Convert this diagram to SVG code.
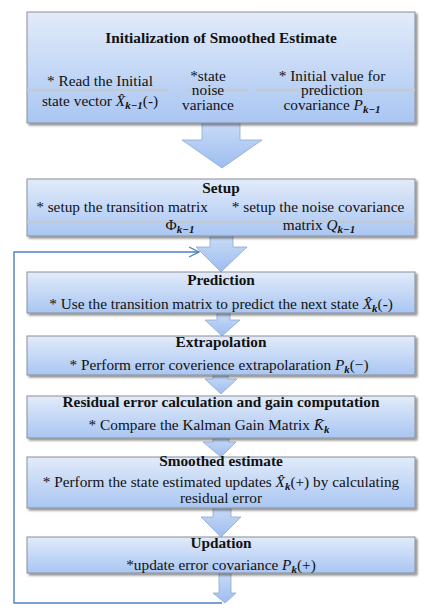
<svg xmlns="http://www.w3.org/2000/svg" width="425" height="613" viewBox="0 0 425 613">
<defs>
<linearGradient id="bg" x1="0" y1="0" x2="0" y2="1">
<stop offset="0" stop-color="#e2ebfa"/>
<stop offset="1" stop-color="#a9c6f2"/>
</linearGradient>
<linearGradient id="ag" x1="0" y1="0" x2="0" y2="1">
<stop offset="0" stop-color="#c9dbf6"/>
<stop offset="1" stop-color="#9dbdf0"/>
</linearGradient>
<filter id="sh" x="-5%" y="-10%" width="115%" height="130%">
<feDropShadow dx="2" dy="2" stdDeviation="1.2" flood-color="#000" flood-opacity="0.45"/>
</filter>
<marker id="open" viewBox="0 0 12 12" refX="11" refY="6" markerWidth="12" markerHeight="12" markerUnits="userSpaceOnUse" orient="auto">
<path d="M1,1 L11,6 L1,11" fill="none" stroke="#4f81bd" stroke-width="1.3"/>
</marker>
</defs>
<style>
.box{fill:url(#bg);stroke:#8a8f98;stroke-width:1;filter:url(#sh)}
.arr{fill:url(#ag);stroke:#8ea9cf;stroke-width:0.8}
.band{stroke:#c4c9d1;stroke-width:2.5;opacity:0.85}
text{font-family:"Liberation Serif","Times New Roman",serif;font-size:15.3px;fill:#111;text-anchor:middle}
.t{font-weight:bold}
.m{font-style:italic}
.s{font-size:11px;font-style:italic;font-weight:bold}
.loop{fill:none;stroke:#4f81bd;stroke-width:1.4}
</style>

<g id="connectors">
<path class="loop" d="M222,603 H14 V252 H199" marker-end="url(#open)"/>
<path class="arr" d="M202,123 V140 H182 L222,168 L262,140 H240 V123 Z"/>
<path class="arr" d="M210,236 V247 H196 L221,272 L247,247 H233 V236 Z"/>
<path class="arr" d="M217,313 V320 H205 L222,336 L240,320 H230 V313 Z"/>
<path class="arr" d="M213,375 V379 H205 L221,394 L237,379 H228 V375 Z"/>
<path class="arr" d="M213,438 V442 H203 L221,457 L236,442 H229 V438 Z"/>
<path class="arr" d="M213,507 V517 H201 L221,537 L241,517 H231 V507 Z"/>
<path class="arr" d="M219,573 V593 H213 L225,603 L236,593 H231 V573 Z"/>
</g>

<g id="node-init">
<rect class="box" x="27" y="12" width="388" height="111"/>
<line class="band" x1="27" y1="90" x2="167" y2="90"/>
<line class="band" x1="187" y1="90" x2="248" y2="90"/>
<line class="band" x1="255" y1="90" x2="415" y2="90"/>
<text class="t" x="221" y="43">Initialization of Smoothed Estimate</text>
<text x="100" y="86">* Read the Initial</text>
<text x="100" y="106">state vector <tspan class="m">X̂</tspan><tspan class="s" dy="3">k−1</tspan><tspan dy="-3">(-)</tspan></text>
<text x="208" y="81">*state</text>
<text x="208" y="95">noise</text>
<text x="208" y="110">variance</text>
<text x="332" y="81">* Initial value for</text>
<text x="332" y="95">prediction</text>
<text x="332" y="110">covariance <tspan class="m">P</tspan><tspan class="s" dy="3">k−1</tspan></text>
</g>

<g id="node-setup">
<rect class="box" x="27" y="179" width="388" height="57"/>
<line class="band" x1="27" y1="222" x2="415" y2="222"/>
<text class="t" x="221" y="193">Setup</text>
<text x="122" y="212">* setup the transition matrix</text>
<text x="180" y="230">Φ<tspan class="s" dy="3">k−1</tspan></text>
<text x="318" y="212">* setup the noise covariance</text>
<text x="319" y="230">matrix <tspan class="m">Q</tspan><tspan class="s" dy="3">k−1</tspan></text>
</g>

<g id="node-prediction">
<rect class="box" x="27" y="272" width="388" height="41"/>
<text class="t" x="221" y="285">Prediction</text>
<text x="221" y="309">* Use the transition matrix to predict the next state <tspan class="m">X̂</tspan><tspan class="s" dy="3">k</tspan><tspan dy="-3">(-)</tspan></text>
</g>

<g id="node-extrapolation">
<rect class="box" x="27" y="336" width="388" height="39"/>
<text class="t" x="221" y="347">Extrapolation</text>
<text x="219" y="370">* Perform  error coverience extrapolaration <tspan class="m">P</tspan><tspan class="s" dy="3">k</tspan><tspan dy="-3">(−)</tspan></text>
</g>

<g id="node-residual">
<rect class="box" x="27" y="396" width="388" height="42"/>
<text class="t" x="221" y="407">Residual error calculation and gain computation</text>
<text x="209" y="430">* Compare the Kalman Gain Matrix <tspan class="m">K̄</tspan><tspan class="s" dy="3">k</tspan></text>
</g>

<g id="node-smoothed">
<rect class="box" x="27" y="457" width="388" height="51"/>
<text class="t" x="221" y="466">Smoothed estimate</text>
<text x="221" y="487">* Perform the state estimated updates <tspan class="m">X̂</tspan><tspan class="s" dy="3">k</tspan><tspan dy="-3">(+) by calculating</tspan></text>
<text x="221" y="503">residual error</text>
</g>

<g id="node-updation">
<rect class="box" x="27" y="537" width="388" height="36"/>
<text class="t" x="221" y="548">Updation</text>
<text x="221" y="570">*update error covariance <tspan class="m">P</tspan><tspan class="s" dy="3">k</tspan><tspan dy="-3">(+)</tspan></text>
</g>
</svg>
